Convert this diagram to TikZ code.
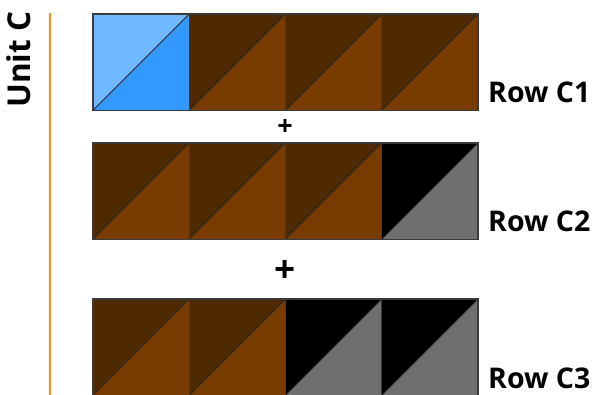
\documentclass[tikz,border=0pt]{standalone}
\usepackage{fontspec}
\setmainfont{Open Sans}
\definecolor{lblue}{HTML}{70B8FF}
\definecolor{dblue}{HTML}{3399FF}
\definecolor{dbrown}{HTML}{4F2900}
\definecolor{brown}{HTML}{783C00}
\definecolor{mgray}{HTML}{6F6F6F}
\definecolor{unitorange}{HTML}{FF8C1A}
\definecolor{edge}{HTML}{3A3A3A}
\tikzset{
  diag/.style={draw=black!85, line width=0.9pt},
  sqborder/.style={draw=edge, line width=1.1pt},
  rowlabel/.style={font=\bfseries\fontsize{28.5}{28.5}\selectfont, anchor=base west, inner sep=0pt},
  plus/.style={font=\bfseries, inner sep=0pt, anchor=center},
  pics/hst/.style 2 args={code={
    \fill[#1] (0,0) -- (96.25,0) -- (0,96.25) -- cycle;
    \fill[#2] (96.25,0) -- (96.25,96.25) -- (0,96.25) -- cycle;
    \draw[diag] (0,96.25) -- (96.25,0);
    \draw[sqborder] (0,0) rectangle (96.25,96.25);
  }}
}
\begin{document}
\begin{tikzpicture}[x=1pt,y=-1pt]
\useasboundingbox (0,0) rectangle (593,395);
% orange line
\coordinate (ltop) at (49.7,13);
\coordinate (lbot) at (49.7,395);
\draw[unitorange, line width=2pt] (ltop) -- (lbot);
\node[font=\bfseries\fontsize{31.5}{31.5}\selectfont, rotate=90, anchor=base west, inner sep=0pt] (unit) at (30.5,108) {Unit C};
% Row C1
\pic at (93,14) {hst={lblue}{dblue}};
\pic at (189.25,14) {hst={dbrown}{brown}};
\pic at (285.5,14) {hst={dbrown}{brown}};
\pic at (381.75,14) {hst={dbrown}{brown}};
\node[rowlabel] (r1) at (488,103) {Row C1};
% plus 1
\node[plus, font=\bfseries\fontsize{27}{27}\selectfont] (p1) at (285,127) {+};
% Row C2
\pic at (93,143) {hst={dbrown}{brown}};
\pic at (189.25,143) {hst={dbrown}{brown}};
\pic at (285.5,143) {hst={dbrown}{brown}};
\pic at (381.75,143) {hst={black}{mgray}};
\node[rowlabel] (r2) at (488,231) {Row C2};
% plus 2
\node[plus, font=\bfseries\fontsize{37}{37}\selectfont] (p2) at (285,271.5) {+};
% Row C3
\pic at (93,299) {hst={dbrown}{brown}};
\pic at (189.25,299) {hst={dbrown}{brown}};
\pic at (285.5,299) {hst={black}{mgray}};
\pic at (381.75,299) {hst={black}{mgray}};
\node[rowlabel] (r3) at (488,388) {Row C3};
\end{tikzpicture}
\end{document}
